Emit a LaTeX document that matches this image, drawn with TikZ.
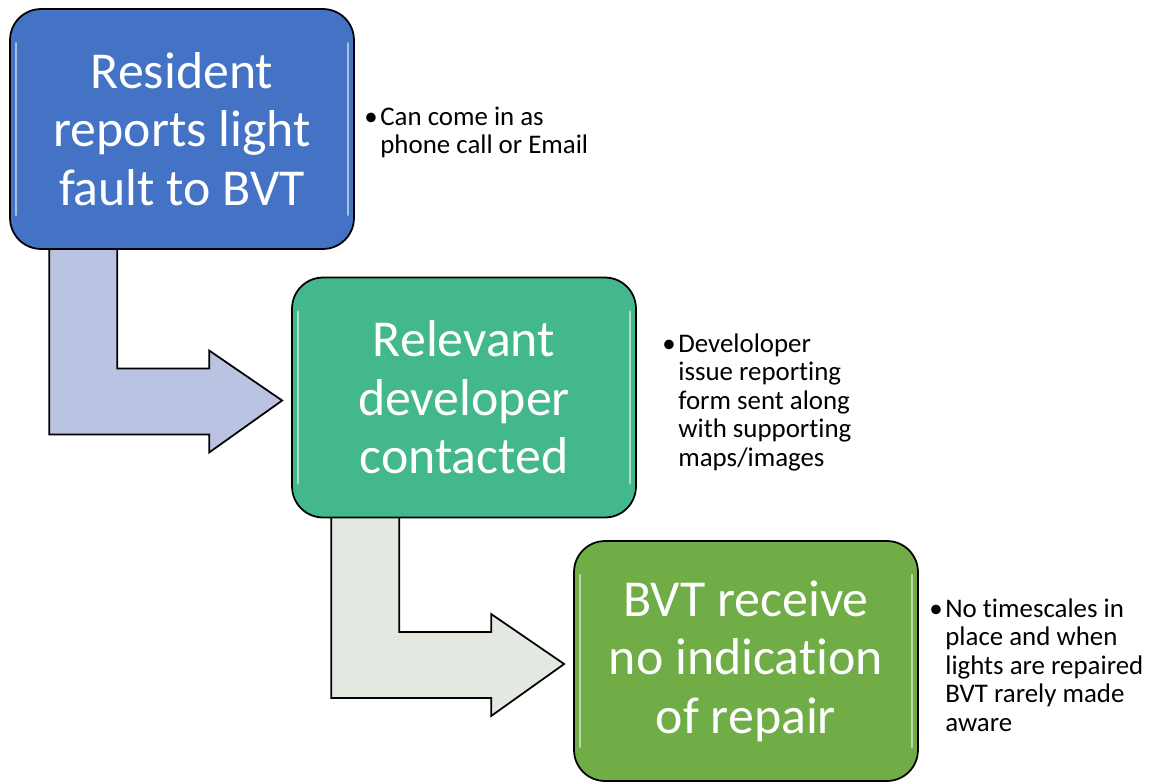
\documentclass[tikz,border=0pt]{standalone}
\usepackage{fontspec}
\setmainfont{Carlito}[Ligatures=CommonOff]
\usetikzlibrary{calc,backgrounds}

\definecolor{boxblue}{HTML}{4472C4}
\definecolor{boxteal}{HTML}{43B88C}
\definecolor{boxgreen}{HTML}{70AD47}
\definecolor{arrowA}{HTML}{BAC3E1}
\definecolor{arrowB}{HTML}{E3E9E1}

\tikzset{
    stepbox/.style={draw=black, line width=1pt, rounded corners=0.62cm,
        minimum width=6.88cm, minimum height=4.8cm, inner sep=0pt,
        text=white, align=center, font=\fontsize{29.5}{33.3}\selectfont},
    note/.style={anchor=base west, inner sep=0pt,
        font=\fontsize{15.3}{16.3}\selectfont},
    bentarrow/.style={draw=black, line width=1pt, line join=miter}
}

\begin{document}
\begin{tikzpicture}[x=0.02cm, y=-0.02cm]
                    \useasboundingbox (0,0) rectangle (1150,782);

                    % Steps
                    \node[stepbox, fill=boxblue] (Box-1) at (182,129) {Resident\\reports light\\fault to BVT};
                    \node[stepbox, fill=boxteal] (Box-2) at (464,397.5) {Relevant\\developer\\contacted};
                    \node[stepbox, fill=boxgreen] (Box-3) at (746,661) {BVT receive\\no indication\\of repair};

                    % Glossy edges
                    \foreach \i in {1,2,3}
                    {
                        \draw[white, opacity=0.55, line width=1.5pt, line cap=round]
                            ($(Box-\i.north west)+(7,35)$) -- ($(Box-\i.south west)+(7,-35)$);
                        \draw[white, opacity=0.55, line width=1.5pt, line cap=round]
                            ($(Box-\i.north east)+(-7,35)$) -- ($(Box-\i.south east)+(-7,-35)$);
                    }

                    % Notes beside the steps
                    \node[note] (Note-1) at (364,125) {\begin{tabular}[t]{@{}l@{\hspace{1.5pt}}l@{}}•&Can come in as\\&phone call or Email\end{tabular}};
                    \node[note] (Note-2) at (662,352) {\begin{tabular}[t]{@{}l@{\hspace{1.5pt}}l@{}}•&Develoloper\\&issue reporting\\&form sent along\\&with supporting\\&maps/images\end{tabular}};
                    \node[note] (Note-3) at (929,617) {\begin{tabular}[t]{@{}l@{\hspace{1.5pt}}l@{}}•&No timescales in\\&place and when\\&lights are repaired\\&BVT rarely made\\&aware\end{tabular}};

                    % Bent arrows from one step to the next
                    \begin{pgfonlayer}{background}
                    \foreach \a/\b/\c in {1/2/arrowA, 2/3/arrowB}
                    {
                        \coordinate (Tip) at ($(Box-\b.west)+(-9,3)$);
                        \coordinate (StemL) at ($(Box-\a.south west)+(40,-4)$);
                        \coordinate (StemR) at ($(StemL)+(68,0)$);
                        \coordinate (BarT) at ($(Tip)+(0,-32)$);
                        \coordinate (BarB) at ($(Tip)+(0,34)$);
                        \coordinate (HeadT) at ($(Tip)+(-73,-50)$);
                        \coordinate (HeadB) at ($(Tip)+(-73,52)$);
                        \draw[bentarrow, fill=\c] (StemL) -- (StemR) -- (StemR |- BarT) -- (HeadT |- BarT)
                            -- (HeadT) -- (Tip) -- (HeadB) -- (HeadB |- BarB) -- (StemL |- BarB) -- cycle;
                    }
                    \end{pgfonlayer}
                \end{tikzpicture}
\end{document}
